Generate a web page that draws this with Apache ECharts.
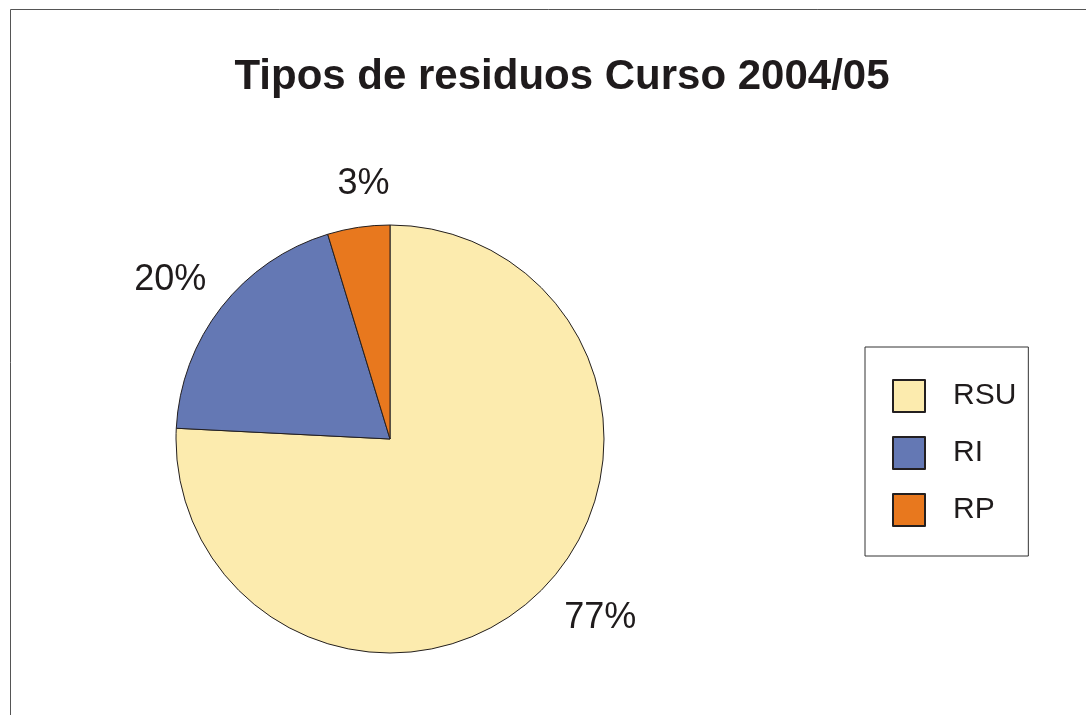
<!DOCTYPE html>
<html>
<head>
<meta charset="utf-8">
<script src="https://cdn.jsdelivr.net/npm/echarts@6/dist/echarts.min.js"></script>
<style>
    html, body { margin: 0; padding: 0; background: #fff; }
    #chart { width: 1086px; height: 715px; }
</style>
</head>
<body>
<div id="chart"></div>
<script>
// datos
var categories = ['RSU', 'RI', 'RP'];
// tamaño de cada sector tal como se ve en la tarta
var shares = [75.8, 19.5, 4.7];
// etiquetas tal como aparecen escritas
var labelTexts = ['77%', '20%', '3%'];
var colors = ['#fcebae', '#6478b4', '#e8781e'];

var pieCenter = [390, 439];
var pieRadius = 214;
// pequeño ajuste de cada etiqueta (px), como las coloca Excel
var labelNudge = [[23, -18], [-4, 10], [11, -4]];

var total = shares.reduce(function (a, b) { return a + b; }, 0);

// posicion de etiqueta fuera del sector, centrada en su angulo medio
function labelPos(params) {
    var i = params.dataIndex;
    var before = 0;
    for (var k = 0; k < i; k++) {
        before += shares[k];
    }
    var mid = (before + shares[i] / 2) / total * Math.PI * 2;
    var dx = Math.sin(mid);
    var dy = -Math.cos(mid);
    var w = params.labelRect.width;
    var dist = pieRadius + 23 + Math.abs(dx) * w / 2 + Math.abs(dy) * 13.5;
    return {
        x: pieCenter[0] + dx * dist + labelNudge[i][0],
        y: pieCenter[1] + dy * dist + labelNudge[i][1],
        align: 'center',
        verticalAlign: 'middle'
    };
}

var seriesData = [];
for (var i = 0; i < categories.length; i++) {
    seriesData.push({
        name: categories[i],
        value: shares[i],
        itemStyle: { color: colors[i] }
    });
}

var chart = echarts.init(document.getElementById('chart'), null, { renderer: 'canvas' });
var option = {
    backgroundColor: '#ffffff',
    animation: false,
    title: {
        text: 'Tipos de residuos Curso 2004/05',
        left: 557,
        top: 51,
        textAlign: 'center',
        textStyle: {
            fontFamily: '"Liberation Sans", Arial, sans-serif',
            fontSize: 42,
            fontWeight: 'bold',
            color: '#1f1b1c'
        }
    },
    legend: {
        orient: 'vertical',
        left: 865,
        top: 347,
        padding: [32, 12, 29, 27],
        itemWidth: 32,
        itemHeight: 32,
        itemGap: 23,
        icon: 'rect',
        borderColor: '#333',
        borderWidth: 1,
        borderRadius: 0,
        data: categories,
        textStyle: {
            fontFamily: '"Liberation Sans", Arial, sans-serif',
            fontSize: 30,
            lineHeight: 30,
            color: '#1f1b1c',
            padding: [0, 0, 0, 23]
        }
    },
    graphic: [
        {
            type: 'rect',
            shape: { x: 10.5, y: 9.5, width: 1100, height: 720 },
            style: { fill: 'none', stroke: '#555', lineWidth: 1 },
            silent: true
        }
    ],
    series: [
        {
            type: 'pie',
            center: pieCenter,
            radius: pieRadius,
            startAngle: 90,
            clockwise: true,
            avoidLabelOverlap: false,
            itemStyle: {
                borderColor: '#231f20',
                borderWidth: 1
            },
            emphasis: { disabled: true },
            label: {
                show: true,
                position: 'outside',
                fontFamily: '"Liberation Sans", Arial, sans-serif',
                fontSize: 36,
                color: '#1f1b1c',
                formatter: function (p) {
                    return labelTexts[p.dataIndex];
                }
            },
            labelLine: { show: false },
            labelLayout: labelPos,
            data: seriesData
        }
    ]
};
chart.setOption(option);
</script>
</body>
</html>
